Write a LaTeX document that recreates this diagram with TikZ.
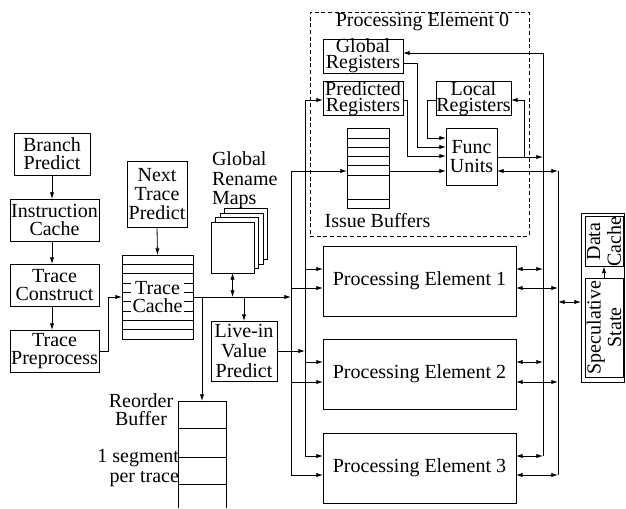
\documentclass[tikz,border=0pt]{standalone}
\usepackage{fontspec}
\setmainfont{Liberation Serif}
\usetikzlibrary{arrows.meta}
\begin{document}
\begin{tikzpicture}[x=0.75pt,y=-0.75pt,
  line width=0.6pt,
  every node/.style={inner sep=0pt, outer sep=0pt},
  lbl/.style={align=center, font=\fontsize{15}{13.5}\selectfont},
  box/.style={draw, lbl},
  sz/.style 2 args={minimum width=#1*0.75pt, minimum height=#2*0.75pt},
  arr/.style={-{Latex[length=5pt,width=3.2pt]}},
  darr/.style={{Latex[length=5pt,width=3.2pt]}-{Latex[length=5pt,width=3.2pt]}}]
\useasboundingbox (0,0) rectangle (626,508);

% ---- front end ----
\node[box,sz={76}{42}] (bp) at (52,154) {Branch\\Predict};
\node[box,sz={89}{42}] (ic) at (54.5,220) {Instruction\\Cache};
\node[box,sz={89}{42}] (tc) at (54.5,285) {Trace\\Construct};
\node[box,sz={89}{42}] (tp) at (54.5,351) {Trace\\Preprocess};
\draw[arr] (bp.south) -- (bp.south |- ic.north);
\draw[arr] (ic.south -| bp.south) -- (tc.north -| bp.south);
\draw[arr] (tc.south -| bp.south) -- (tp.north -| bp.south);

\node[box,sz={60}{66},font=\fontsize{15}{14}\selectfont] (ntp) at (157,194) {Next\\Trace\\Predict};
\node[draw,sz={71}{84}] (tcache) at (157.5,297) {};
\foreach \y in {264.3,273.7,283,292.3,301.7,311,320.3,329.7}
  \draw (tcache.west |- 0,\y) -- (tcache.east |- 0,\y);
\node[lbl,fill=white,inner xsep=1pt,inner ysep=1.5pt] (tclbl) at (tcache) {Trace\\Cache};
\draw[arr] (ntp.south) -- (tcache.north);
\draw[arr] (tp.east) -- ++(9,0) |- (tcache.west);

% ---- rename maps ----
\foreach \k in {3,2,1}
  \draw[fill=white] (211+\k*4.5,222-\k*4.5) rectangle (254+\k*4.5,273-\k*4.5);
\node[draw,fill=white,sz={43}{51}] (maps) at (232.5,247.5) {};
\node[lbl,align=left,anchor=north west,font=\fontsize{15}{14.6}\selectfont] (mapslbl) at (212,152) {Global\\Rename\\Maps};

% ---- live-in ----
\node[box,sz={66}{60},font=\fontsize{15}{15}\selectfont] (live) at (244,351) {Live-in\\Value\\Predict};

% ---- reorder buffer ----
\draw (178,508) -- (178,401) -- (226,401) -- (226,508);
\foreach \y in {428,457,484} \draw (178,\y) -- (226,\y);
\coordinate (rob) at (202,401);
\node[lbl,anchor=north] (roblbl) at (141,394) {Reorder\\Buffer};
\node[lbl,align=right,anchor=north east,font=\fontsize{15}{15}\selectfont] (seglbl) at (179,449.5) {1 segment\\per trace};

% ---- buses ----
\coordinate (b1t) at (291,171); \coordinate (b1b) at (291,475);
\coordinate (b2t) at (305,100); \coordinate (b2b) at (305,456);
\coordinate (b3t) at (543,53);  \coordinate (b3b) at (543,456);
\coordinate (b4t) at (558,171); \coordinate (b4b) at (558,475);
\draw (b1t) -- (b1b);
\draw (b2t) -- (b2b);
\draw (b3t) -- (b3b);
\draw (b4t) -- (b4b);

\draw[arr] (tcache.east) -- (tcache.east -| b1t);
\draw[arr] (rob |- tcache.east) -- (rob);
\draw[darr] (maps.south) -- (maps.south |- tcache.east);
\draw[arr] (live.north |- tcache.east) -- (live.north);
\draw[arr] (live.east) -- (live.east -| b2t);

% ---- processing element 0 ----
\node[draw,dashed,dash pattern=on 3pt off 2pt,sz={219}{224}] (pe0) at (419.5,124) {};
\node[lbl,anchor=base] (pe0lbl) at (422.5,26) {Processing Element 0};
\node[box,sz={80}{32},font=\fontsize{15}{12}\selectfont] (greg) at (363,56) {Global\\Registers};
\node[box,sz={80}{33},font=\fontsize{15}{12}\selectfont] (preg) at (363,98.5) {Predicted\\Registers};
\node[box,sz={75}{33},font=\fontsize{15}{12}\selectfont] (lreg) at (473.5,98.5) {Local\\Registers};
\node[box,sz={51}{57},font=\fontsize{15}{14.25}\selectfont] (fu) at (471.5,156.5) {Func\\Units};
\node[draw,sz={42}{80}] (ib) at (368,168) {};
\foreach \y in {138.3,147.3,156.7,165.7,175,199}
  \draw (ib.west |- 0,\y) -- (ib.east |- 0,\y);
\node[lbl,anchor=base] (iblbl) at (377.5,227) {Issue Buffers};

\draw[arr] (b3t) -- (b3t -| greg.east);
\draw[arr] (greg.east |- 0,63) -- (417,63) -- (417,147) -- (fu.west |- 0,147);
\draw[arr] (preg.east |- 0,100) -- (407,100) -- (407,156) -- (fu.west |- 0,156);
\draw[arr] (lreg.west |- 0,100) -- (427,100) -- (427,138) -- (fu.west |- 0,138);
\draw[arr] (ib.east |- b1t) -- (fu.west |- b1t);
\draw[arr] (b1t) -- (b1t -| ib.west);
\draw[arr] (b2t) -- (b2t -| preg.west);
\draw[arr] (fu.east |- 0,157) -- (b3t |- 0,157);
\draw[arr] (524,157) -- (524,100) -- (lreg.east |- 0,100);
\draw[darr] (fu.east |- b4t) -- (b4t);

% ---- processing elements 1-3 ----
\node[box,sz={193}{70}] (pe1) at (419.5,281) {Processing Element 1};
\node[box,sz={193}{70}] (pe2) at (419.5,374) {Processing Element 2};
\node[box,sz={193}{70}] (pe3) at (419.5,468) {Processing Element 3};
\foreach \pe/\u/\l in {pe1/269/288, pe2/362/382, pe3/456/475} {
  \draw[arr] (b2t |- 0,\u) -- (\pe.west |- 0,\u);
  \draw[arr] (b1t |- 0,\l) -- (\pe.west |- 0,\l);
  \draw[darr] (\pe.east |- 0,\u) -- (b3t |- 0,\u);
  \draw[darr] (\pe.east |- 0,\l) -- (b4t |- 0,\l);
}

% ---- memory ----
\node[draw,sz={43}{169}] (mem) at (602.5,297.5) {};
\node[box,rotate=90,sz={47}{38},font=\fontsize{15}{15.5}\selectfont] (dc) at (604,241.5) {Data\\Cache};
\node[box,rotate=90,sz={99}{38},font=\fontsize{15}{15.5}\selectfont] (ss) at (604,327.5) {Speculative\\State};
\draw[arr] (ss.east) -- (dc.west);
\draw[darr] (b4t |- 0,302) -- (mem.west |- 0,302);
\end{tikzpicture}
\end{document}
